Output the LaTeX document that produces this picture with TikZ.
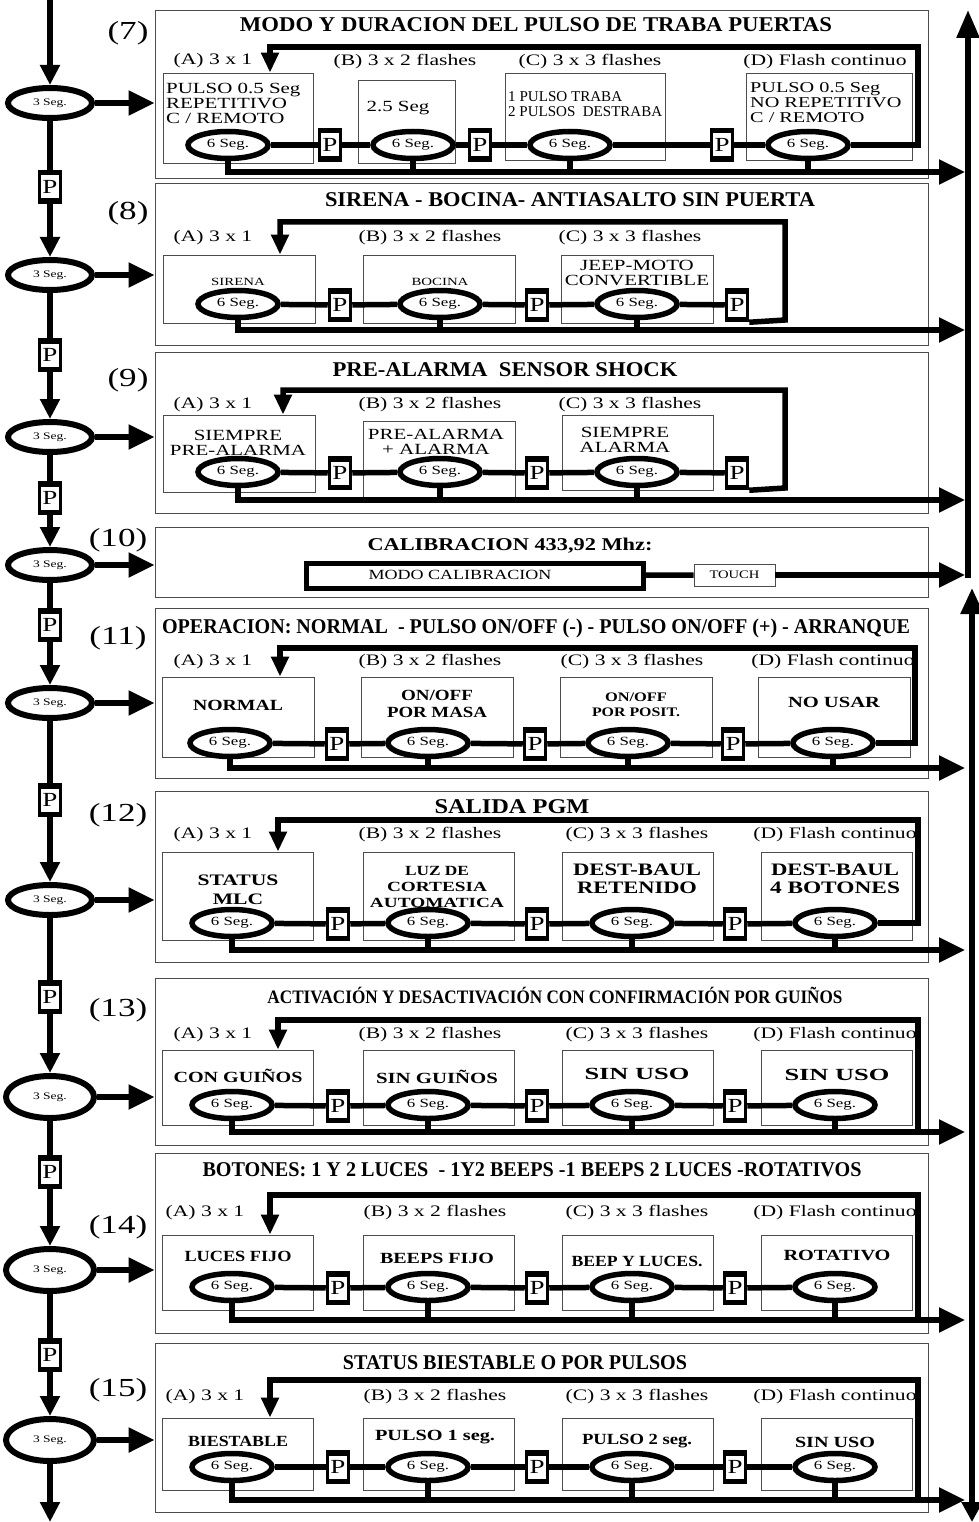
\documentclass[tikz,border=0pt]{standalone}
\usepackage{fontspec}
\setmainfont[FakeStretch=1.35]{Liberation Serif}
\usepackage{graphicx}
\usetikzlibrary{shapes.geometric,arrows.meta,positioning}

\newcommand{\fitw}[2]{\resizebox{#1}{\height}{#2}}

\begin{document}
\begin{tikzpicture}[x=1pt,y=-1pt,
    wire/.style={line width=5.5pt},
    arr/.style={wire,-{Triangle[length=26pt,width=24pt]}},
    darr/.style={wire,-{Triangle[length=20pt,width=19pt]}},
    back/.style={wire,-{Triangle[length=20pt,width=17pt]}},
    sect/.style={draw=black!70,line width=0.9pt,minimum width=773pt,inner sep=0},
    optbox/.style={draw=black!70,line width=0.8pt,inner sep=0},
    seg/.style={ellipse,draw,line width=5.5pt,minimum width=80pt,minimum height=27pt,inner sep=0,font=\fontsize{12.5}{13}\selectfont},
    segl/.style={ellipse,draw,line width=6pt,minimum width=84pt,minimum height=30pt,inner sep=0,font=\fontsize{10}{10}\selectfont},
    pbtn/.style={draw,line width=3.5pt,minimum width=21pt,minimum height=31pt,inner sep=0,font=\fontsize{20}{20}\selectfont,
        path picture={
            \fill (path picture bounding box.north west) rectangle ([yshift=-4pt]path picture bounding box.north east);
            \fill (path picture bounding box.south west) rectangle ([yshift=4pt]path picture bounding box.south east);
        }},
    lbl/.style={inner sep=0,font=\fontsize{16}{16}\selectfont},
    num/.style={inner sep=0,font=\fontsize{26}{26}\selectfont},
    ttl/.style={inner sep=0,font=\bfseries\fontsize{21}{21}\selectfont},
    txt/.style={inner sep=0,align=center,font=\fontsize{15.5}{15}\selectfont},
    btxt/.style={inner sep=0,align=center,font=\bfseries\fontsize{15.5}{17}\selectfont}]

    \useasboundingbox (0,0) rectangle (978,1522);

    % section frames and numbers
    \foreach \n/\ya/\yb in {7/10/178,8/183/345,9/352/513,10/527/597,11/608/778,
                            12/791/962,13/978/1145,14/1153/1333,15/1343/1512}
        \node[sect,anchor=north,minimum height={\yb-\ya}] (box\n) at (541.5,\ya) {};
    \foreach \n/\x/\y in {7/128/33,8/128/213,9/128/380,10/118/540,11/118/638,
                          12/118/815,13/118/1010,14/118/1227,15/118/1390}
        \node[num] (n\n) at (\x,\y) {(\n)};

    % left column
    \foreach \n/\y in {7/103,8/275,9/437,10/565,11/703,12/900}
        \node[segl] (s\n) at (50,\y) {3 Seg.};
    \foreach \n/\y in {13/1097,14/1270,15/1440}
        \node[segl,minimum width=88pt,minimum height=42pt] (s\n) at (50,\y) {3 Seg.};
    \foreach \n/\y in {7/187,8/355,9/498,10/625,11/800,12/997,13/1172,14/1355}
        \node[pbtn] (q\n) at (50,\y) {P};
    \coordinate (top) at (50,0);
    \coordinate (bottom) at (50,1522);
    \draw[darr] (top) -- (s7);
    \foreach \a/\b in {7/8,8/9,9/10,10/11,11/12,12/13,13/14,14/15} {
        \draw[wire] (s\a) -- (q\a);
        \draw[darr] (q\a) -- (s\b);
    }
    \draw[darr] (s15) -- (bottom);
    \foreach \n in {7,...,15}
        \draw[arr] (s\n.east) -- (s\n.east -| box\n.west);

    % right column
    \coordinate (rtop) at (968,10);
    \coordinate (rmid) at (968,578);
    \coordinate (rlow) at (972,588);
    \coordinate (rbot) at (972,1522);
    \draw[wire,-{Triangle[length=28pt,width=22pt]}] (rmid) -- (rtop);
    \draw[wire,{Triangle[length=26pt,width=22pt]}-{Triangle[length=20pt,width=20pt]}] (rlow) -- (rbot);

    % (7)
    \node[ttl] (t7) at (536,25) {\fitw{592pt}{MODO Y DURACION DEL PULSO DE TRABA PUERTAS}};
    \node[lbl] (l7a) at (213,61) {(A) 3 x 1};
    \node[lbl] (l7b) at (405,62) {(B) 3 x 2 flashes};
    \node[lbl] (l7c) at (590,62) {(C) 3 x 3 flashes};
    \node[lbl] (l7d) at (825,62) {(D) Flash continuo};
    \node[optbox,minimum width=150pt,minimum height=90pt] (o7a) at (238,118) {};
    \node[optbox,minimum width=97pt,minimum height=83pt] (o7b) at (406.5,121.5) {};
    \node[optbox,minimum width=160pt,minimum height=87pt] (o7c) at (585,116.5) {};
    \node[optbox,minimum width=166pt,minimum height=87pt] (o7d) at (829,116.5) {};
    \node[txt,align=left,anchor=west] (x7a) at (166,103) {PULSO 0.5 Seg\\REPETITIVO\\C / REMOTO};
    \node[txt] (x7b) at (398,108) {2.5 Seg};
    \node[txt,align=left,anchor=west,font=\fontsize{15}{15}\selectfont] (x7c) at (508,104) {\fitw{114pt}{1 PULSO TRABA}\\\fitw{154pt}{2 PULSOS\ \ DESTRABA}};
    \node[txt,align=left,anchor=west,font=\fontsize{15}{15}\selectfont] (x7d) at (750,103) {PULSO 0.5 Seg\\NO REPETITIVO\\C / REMOTO};
    \foreach \k/\x in {a/228,b/413,c/570,d/808}
        \node[seg] (e7\k) at (\x,145) {6 Seg.};
    \foreach \k/\x in {a/330,b/480,c/722}
        \node[pbtn] (p7\k) at (\x,145) {P};
    \draw[wire] (e7a) -- (p7a) -- (e7b) -- (p7b) -- (e7c) -- (p7c) -- (e7d);
    \draw[back] (e7d.east) -- (918,145) -- (918,47) -- (270,47) -- ([xshift=32pt]o7a.north);
    \coordinate (bus7) at (965,172);
    \draw[arr] (e7a.south) |- (bus7);
    \foreach \k in {b,c,d}
        \draw[wire] (e7\k.south) -- (e7\k.south |- bus7);

    % (8)
    \node[ttl] (t8) at (570,200) {\fitw{490pt}{SIRENA - BOCINA- ANTIASALTO SIN PUERTA}};
    \node[lbl] (l8a) at (213,238) {(A) 3 x 1};
    \node[lbl] (l8b) at (430,238) {(B) 3 x 2 flashes};
    \node[lbl] (l8c) at (630,238) {(C) 3 x 3 flashes};
    \foreach \k/\x in {a/239,b/439,c/637.5}
        \node[optbox,minimum width=152pt,minimum height=68pt] (o8\k) at (\x,289) {};
    \node[txt,font=\fontsize{11}{11}\selectfont] (x8a) at (238,282) {SIRENA};
    \node[txt,font=\fontsize{11}{11}\selectfont] (x8b) at (440,282) {BOCINA};
    \node[txt] (x8c) at (637,273) {JEEP-MOTO\\CONVERTIBLE};
    \foreach \k/\x in {a/238,b/440,c/637}
        \node[seg] (e8\k) at (\x,304) {6 Seg.};
    \foreach \k/\x in {a/340,b/537,c/737}
        \node[pbtn] (p8\k) at (\x,305) {P};
    \draw[wire] (e8a) -- (p8a) -- (e8b) -- (p8b) -- (e8c) -- (p8c);
    \draw[back] (p8c.south east) -- (785,320) -- (785,222) -- (280,222) -- ([xshift=41pt]o8a.north);
    \coordinate (bus8) at (965,330);
    \draw[arr] (e8a.south) |- (bus8);
    \foreach \k in {b,c}
        \draw[wire] (e8\k.south) -- (e8\k.south |- bus8);

    % (9)
    \node[ttl] (t9) at (505,370) {\fitw{345pt}{PRE-ALARMA\ \ SENSOR SHOCK}};
    \node[lbl] (l9a) at (213,405) {(A) 3 x 1};
    \node[lbl] (l9b) at (430,405) {(B) 3 x 2 flashes};
    \node[lbl] (l9c) at (630,405) {(C) 3 x 3 flashes};
    \node[optbox,minimum width=152pt,minimum height=77pt] (o9a) at (239,453.5) {};
    \node[optbox,minimum width=152pt,minimum height=76pt] (o9b) at (439,459) {};
    \node[optbox,minimum width=151pt,minimum height=75pt] (o9c) at (637.5,452.5) {};
    \node[txt] (x9a) at (238,443) {SIEMPRE\\PRE-ALARMA};
    \node[txt] (x9b) at (436,442) {PRE-ALARMA\\+ ALARMA};
    \node[txt] (x9c) at (625,440) {SIEMPRE\\ALARMA};
    \foreach \k/\x in {a/238,b/440,c/637}
        \node[seg] (e9\k) at (\x,472) {6 Seg.};
    \foreach \k/\x in {a/340,b/537,c/737}
        \node[pbtn] (p9\k) at (\x,473) {P};
    \draw[wire] (e9a) -- (p9a) -- (e9b) -- (p9b) -- (e9c) -- (p9c);
    \draw[back] (p9c.south east) -- (785,488) -- (785,390) -- (283,390) -- ([xshift=44pt]o9a.north);
    \coordinate (bus9) at (965,500);
    \draw[arr] (e9a.south) |- (bus9);
    \foreach \k in {b,c}
        \draw[wire] (e9\k.south) -- (e9\k.south |- bus9);

    % (10)
    \node[ttl,font=\bfseries\fontsize{18}{18}\selectfont] (t10) at (510,546) {\fitw{285pt}{CALIBRACION 433,92 Mhz:}};
    \node[draw,line width=5pt,minimum width=337pt,minimum height=25pt] (m10) at (474.5,575.5) {};
    \node[txt,font=\fontsize{14}{14}\selectfont] (x10) at (460,575) {\fitw{183pt}{MODO CALIBRACION}};
    \node[optbox,minimum width=81pt,minimum height=22pt,font=\fontsize{11.5}{11}\selectfont] (tch10) at (734.5,575) {\fitw{50pt}{TOUCH}};
    \coordinate (out10) at (965,575);
    \draw[wire] (m10) -- (tch10);
    \draw[arr] (tch10) -- (out10);

    % (11)
    \node[ttl] (t11) at (536,628) {\fitw{748pt}{OPERACION: NORMAL\ \ - PULSO ON/OFF (-) - PULSO ON/OFF (+) - ARRANQUE}};
    \foreach \k/\x/\s in {a/213/(A) 3 x 1,b/430/(B) 3 x 2 flashes,c/632/(C) 3 x 3 flashes,d/833/(D) Flash continuo}
        \node[lbl] (l11\k) at (\x,662) {\s};
    \foreach \k/\x in {a/238,b/437,c/636,d/834}
        \node[optbox,minimum width=152pt,minimum height=80pt] (o11\k) at (\x,717) {};
    \node[btxt] (x11a) at (238,705) {\fitw{90pt}{NORMAL}};
    \node[btxt] (x11b) at (437,704) {\fitw{72pt}{ON/OFF}\\\fitw{100pt}{POR MASA}};
    \node[btxt,font=\bfseries\fontsize{13}{15}\selectfont] (x11c) at (636,705) {\fitw{62pt}{ON/OFF}\\\fitw{88pt}{POR POSIT.}};
    \node[btxt] (x11d) at (834,702) {\fitw{92pt}{NO USAR}};
    \foreach \k/\x in {a/230,b/428,c/628,d/833}
        \node[seg] (e11\k) at (\x,743) {6 Seg.};
    \foreach \k/\x in {a/337,b/535,c/733}
        \node[pbtn] (p11\k) at (\x,744) {P};
    \draw[wire] (e11a) -- (p11a) -- (e11b) -- (p11b) -- (e11c) -- (p11c) -- (e11d);
    \draw[back] (e11d.east) -- (915,743) -- (915,648) -- (280,648) -- ([xshift=42pt]o11a.north);
    \coordinate (bus11) at (965,768);
    \draw[arr] (e11a.south) |- (bus11);
    \foreach \k in {b,c,d}
        \draw[wire] (e11\k.south) -- (e11\k.south |- bus11);

    % (12)
    \node[ttl] (t12) at (512,807) {\fitw{155pt}{SALIDA PGM}};
    \foreach \k/\x/\s in {a/213/(A) 3 x 1,b/430/(B) 3 x 2 flashes,c/637/(C) 3 x 3 flashes,d/835/(D) Flash continuo}
        \node[lbl] (l12\k) at (\x,835) {\s};
    \foreach \k/\x in {a/238,b/439,c/637.5,d/836.5}
        \node[optbox,minimum width=151pt,minimum height=88pt] (o12\k) at (\x,896) {};
    \node[btxt,font=\bfseries\fontsize{16}{19}\selectfont] (x12a) at (238,890) {STATUS\\MLC};
    \node[btxt,font=\bfseries\fontsize{14}{16}\selectfont] (x12b) at (437,887) {\fitw{64pt}{LUZ DE}\\\fitw{100pt}{CORTESIA}\\\fitw{134pt}{AUTOMATICA}};
    \node[btxt,font=\bfseries\fontsize{17.5}{18}\selectfont] (x12c) at (637,879) {\fitw{128pt}{DEST-BAUL}\\\fitw{120pt}{RETENIDO}};
    \node[btxt,font=\bfseries\fontsize{17.5}{18}\selectfont] (x12d) at (835,879) {\fitw{128pt}{DEST-BAUL}\\\fitw{130pt}{4 BOTONES}};
    \foreach \k/\x in {a/232,b/428,c/632,d/835}
        \node[seg] (e12\k) at (\x,923) {6 Seg.};
    \foreach \k/\x in {a/338,b/537,c/735}
        \node[pbtn] (p12\k) at (\x,924) {P};
    \draw[wire] (e12a) -- (p12a) -- (e12b) -- (p12b) -- (e12c) -- (p12c) -- (e12d);
    \draw[back] (e12d.east) -- (918,923) -- (918,820) -- (278,820) -- ([xshift=40pt]o12a.north);
    \coordinate (bus12) at (965,950);
    \draw[arr] (e12a.south) |- (bus12);
    \foreach \k in {b,c,d}
        \draw[wire] (e12\k.south) -- (e12\k.south |- bus12);

    % (13)
    \node[ttl,font=\bfseries\fontsize{19}{19}\selectfont] (t13) at (555,995) {\fitw{575pt}{ACTIVACIÓN Y DESACTIVACIÓN CON CONFIRMACIÓN POR GUIÑOS}};
    \foreach \k/\x/\s in {a/213/(A) 3 x 1,b/430/(B) 3 x 2 flashes,c/637/(C) 3 x 3 flashes,d/835/(D) Flash continuo}
        \node[lbl] (l13\k) at (\x,1035) {\s};
    \foreach \k/\x in {a/238,b/439,c/637.5,d/836.5}
        \node[optbox,minimum width=151pt,minimum height=75pt] (o13\k) at (\x,1087.5) {};
    \node[btxt] (x13a) at (238,1076) {\fitw{129pt}{CON GUIÑOS}};
    \node[btxt] (x13b) at (437,1077) {\fitw{122pt}{SIN GUIÑOS}};
    \node[btxt,font=\bfseries\fontsize{17}{17}\selectfont] (x13c) at (637,1074) {\fitw{105pt}{SIN USO}};
    \node[btxt,font=\bfseries\fontsize{17}{17}\selectfont] (x13d) at (837,1075) {\fitw{105pt}{SIN USO}};
    \foreach \k/\x in {a/232,b/428,c/632,d/835}
        \node[seg] (e13\k) at (\x,1105) {6 Seg.};
    \foreach \k/\x in {a/338,b/537,c/735}
        \node[pbtn] (p13\k) at (\x,1106) {P};
    \draw[wire] (e13a) -- (p13a) -- (e13b) -- (p13b) -- (e13c) -- (p13c) -- (e13d);
    \coordinate (bus13) at (965,1132);
    \draw[arr] (e13a.south) |- (bus13);
    \foreach \k in {b,c,d}
        \draw[wire] (e13\k.south) -- (e13\k.south |- bus13);
    \draw[back] (918,1132) -- (918,1020) -- (278,1020) -- ([xshift=40pt]o13a.north);

    % (14)
    \node[ttl] (t14) at (532,1170) {\fitw{659pt}{BOTONES: 1 Y 2 LUCES\ \ - 1Y2 BEEPS -1 BEEPS 2 LUCES -ROTATIVOS}};
    \foreach \k/\x/\s in {a/205/(A) 3 x 1,b/435/(B) 3 x 2 flashes,c/637/(C) 3 x 3 flashes,d/835/(D) Flash continuo}
        \node[lbl] (l14\k) at (\x,1213) {\s};
    \foreach \k/\x in {a/238,b/439,c/637.5,d/836.5}
        \node[optbox,minimum width=151pt,minimum height=75pt] (o14\k) at (\x,1272.5) {};
    \node[btxt] (x14a) at (238,1256) {\fitw{107pt}{LUCES FIJO}};
    \node[btxt] (x14b) at (437,1258) {\fitw{114pt}{BEEPS FIJO}};
    \node[btxt] (x14c) at (637,1261) {\fitw{131pt}{BEEP Y LUCES.}};
    \node[btxt] (x14d) at (837,1255) {\fitw{107pt}{ROTATIVO}};
    \foreach \k/\x in {a/232,b/428,c/632,d/835}
        \node[seg] (e14\k) at (\x,1287) {6 Seg.};
    \foreach \k/\x in {a/338,b/537,c/735}
        \node[pbtn] (p14\k) at (\x,1288) {P};
    \draw[wire] (e14a) -- (p14a) -- (e14b) -- (p14b) -- (e14c) -- (p14c) -- (e14d);
    \coordinate (bus14) at (965,1320);
    \draw[arr] (e14a.south) |- (bus14);
    \foreach \k in {b,c,d}
        \draw[wire] (e14\k.south) -- (e14\k.south |- bus14);
    \draw[back] (918,1320) -- (918,1195) -- (270,1195) -- ([xshift=32pt]o14a.north);

    % (15)
    \node[ttl] (t15) at (515,1363) {\fitw{344pt}{STATUS BIESTABLE O POR PULSOS}};
    \foreach \k/\x/\s in {a/205/(A) 3 x 1,b/435/(B) 3 x 2 flashes,c/637/(C) 3 x 3 flashes,d/835/(D) Flash continuo}
        \node[lbl] (l15\k) at (\x,1397) {\s};
    \foreach \k/\x in {a/238,b/439,c/637.5,d/836.5}
        \node[optbox,minimum width=151pt,minimum height=72pt] (o15\k) at (\x,1454) {};
    \node[btxt] (x15a) at (238,1441) {\fitw{100pt}{BIESTABLE}};
    \node[btxt] (x15b) at (435,1437) {\fitw{120pt}{PULSO 1 seg.}};
    \node[btxt] (x15c) at (637,1441) {\fitw{110pt}{PULSO 2 seg.}};
    \node[btxt] (x15d) at (835,1442) {\fitw{80pt}{SIN USO}};
    \foreach \k/\x in {a/232,b/428,c/632,d/835}
        \node[seg] (e15\k) at (\x,1467) {6 Seg.};
    \foreach \k/\x in {a/338,b/537,c/735}
        \node[pbtn] (p15\k) at (\x,1467) {P};
    \draw[wire] (e15a) -- (p15a) -- (e15b) -- (p15b) -- (e15c) -- (p15c) -- (e15d);
    \coordinate (bus15) at (965,1500);
    \draw[arr] (e15a.south) |- (bus15);
    \foreach \k in {b,c,d}
        \draw[wire] (e15\k.south) -- (e15\k.south |- bus15);
    \draw[back] (918,1500) -- (918,1380) -- (270,1380) -- ([xshift=32pt]o15a.north);
\end{tikzpicture}
\end{document}
